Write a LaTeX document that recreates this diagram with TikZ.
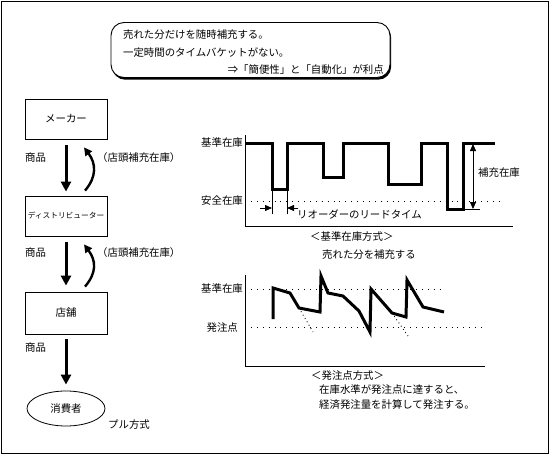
\documentclass[tikz,border=0pt]{standalone}
\usepackage{fontspec}
\setmainfont{Noto Sans CJK JP}
\usetikzlibrary{arrows.meta,shapes.geometric,calc,shadows}
\begin{document}
\begin{tikzpicture}[x=1pt,y=-1pt,
  font=\fontsize{10.4}{12}\selectfont,
  every node/.style={inner sep=0pt},
  txt/.style={anchor=west},
  boxnode/.style={draw,line width=0.8pt,minimum width=82pt,minimum height=40pt},
  bigarrow/.style={line width=3pt,-{Triangle[length=10pt,width=10pt]}},
  curvearrow/.style={line width=2.4pt,-{Triangle[length=8pt,width=8pt]}},
  thin1/.style={line width=0.8pt},
  thickline/.style={line width=3pt,line join=miter},
  dotline/.style={line width=0.9pt,dash pattern=on 0.9pt off 5pt},
  smallarrow/.style={line width=0.8pt,-{Triangle[length=7pt,width=6pt]}},
  dblarrow/.style={line width=0.8pt,{Triangle[length=7pt,width=6pt]}-{Triangle[length=7pt,width=6pt]}}
]
\useasboundingbox (0,0) rectangle (550,455);
\draw[line width=0.8pt] (1,1) rectangle (548,453);

% memo box
\node[draw,line width=0.9pt,fill=white,rounded corners=13pt,minimum width=279pt,minimum height=55pt,
  drop shadow={shadow xshift=1.2pt,shadow yshift=-2.2pt,fill=black,opacity=1}] (memo) at (250.5,50) {};
\node[txt] (m1) at (123,35) {売れた分だけを随時補充する。};
\node[txt] (m2) at (123,53) {一定時間のタイムバケットがない。};
\node[anchor=east] (m3) at (384,70) {⇒「簡便性」と「自動化」が利点};

% left flow
\node[boxnode] (maker) at (66,119) {メーカー};
\node[boxnode,font=\fontsize{7.7}{9}\selectfont] (dist) at (66,216) {ディストリビューター};
\node[boxnode,minimum height=42pt] (shop) at (66,313) {店舗};
\node[draw,ellipse,line width=0.8pt,minimum width=78pt,minimum height=35pt] (cons) at (66,408.5) {消費者};

\draw[bigarrow,shorten <=6pt,shorten >=4pt] (maker) -- (dist);
\draw[bigarrow,shorten <=6pt,shorten >=6pt] (dist) -- (shop);
\draw[bigarrow,shorten <=5pt,shorten >=6pt] (shop) -- (cons);

\draw[curvearrow] ($(dist.north)+(19,-5)$) .. controls +(12,-14) and +(12,16) .. ($(maker.south)+(18,8)$);
\draw[curvearrow] ($(shop.north)+(19,-5)$) .. controls +(12,-14) and +(12,16) .. ($(dist.south)+(18,8)$);

\node[txt] (g1) at (25,158) {商品};
\node[txt] (r1) at (97,158) {（店頭補充在庫）};
\node[txt] (g2) at (25,253) {商品};
\node[txt] (r2) at (97,253) {（店頭補充在庫）};
\node[txt] (g3) at (25,348) {商品};
\node[txt] (pull) at (108,425) {プル方式};

% chart 1
\draw[thin1] (245,135) -- (245,226) -- (513,226);
\draw[dotline] (245,201) -- (502,201);
\draw[thickline] (245,143) -- (272,143) -- (272,189) -- (287,189) -- (287,143) -- (323,143) -- (323,177) -- (343,177) -- (343,143) -- (388,143) -- (388,184) -- (421,184) -- (421,143) -- (447,143) -- (447,209) -- (463,209) -- (463,143) -- (495,143);
\draw[thin1] (272,189) -- (272,214);
\draw[thin1] (287,189) -- (287,214);
\coordinate (la) at (260,208);
\coordinate (lb) at (272,208);
\coordinate (ra) at (298,208);
\coordinate (rb) at (287,208);
\draw[smallarrow] (la) -- (lb);
\draw[smallarrow] (ra) -- (rb);
\draw[thin1] (463,209) -- (480,209);
\coordinate (da) at (473,144);
\coordinate (db) at (473,209);
\draw[dblarrow] (da) -- (db);
\node[anchor=east] (k1) at (243,143) {基準在庫};
\node[anchor=east] (s1) at (243,201) {安全在庫};
\node[txt] (h1) at (478,173) {補充在庫};
\node[txt] (lt) at (297,214) {リオーダーのリードタイム};
\node[txt] (t1) at (310,237) {＜基準在庫方式＞};
\node[txt] (t2) at (322,255) {売れた分を補充する};

% chart 2
\draw[thin1] (245,275) -- (245,366) -- (485,366);
\draw[dotline] (245,289) -- (443,289);
\draw[dotline] (245,327) -- (485,327);
\draw[thickline] (273,319) -- (273,288) -- (290,293) -- (299,308) -- (320,312) -- (321,276) -- (328,293) -- (343,296) -- (359,311) -- (370,332) -- (371,289) -- (392,313) -- (406,317) -- (407,280) -- (423,307) -- (444,312);
\draw[dotline,dash pattern=on 0.9pt off 3pt] (299,308) -- (313,332);
\draw[dotline,dash pattern=on 0.9pt off 3pt] (392,313) -- (408,336);
\node[anchor=east] (k2) at (243,289) {基準在庫};
\node[anchor=east] (p2) at (238,328) {発注点};
\node[txt] (t3) at (311,376) {＜発注点方式＞};
\node[txt] (t4) at (319,390) {在庫水準が発注点に達すると、};
\node[txt] (t5) at (319,405) {経済発注量を計算して発注する。};
\end{tikzpicture}
\end{document}
